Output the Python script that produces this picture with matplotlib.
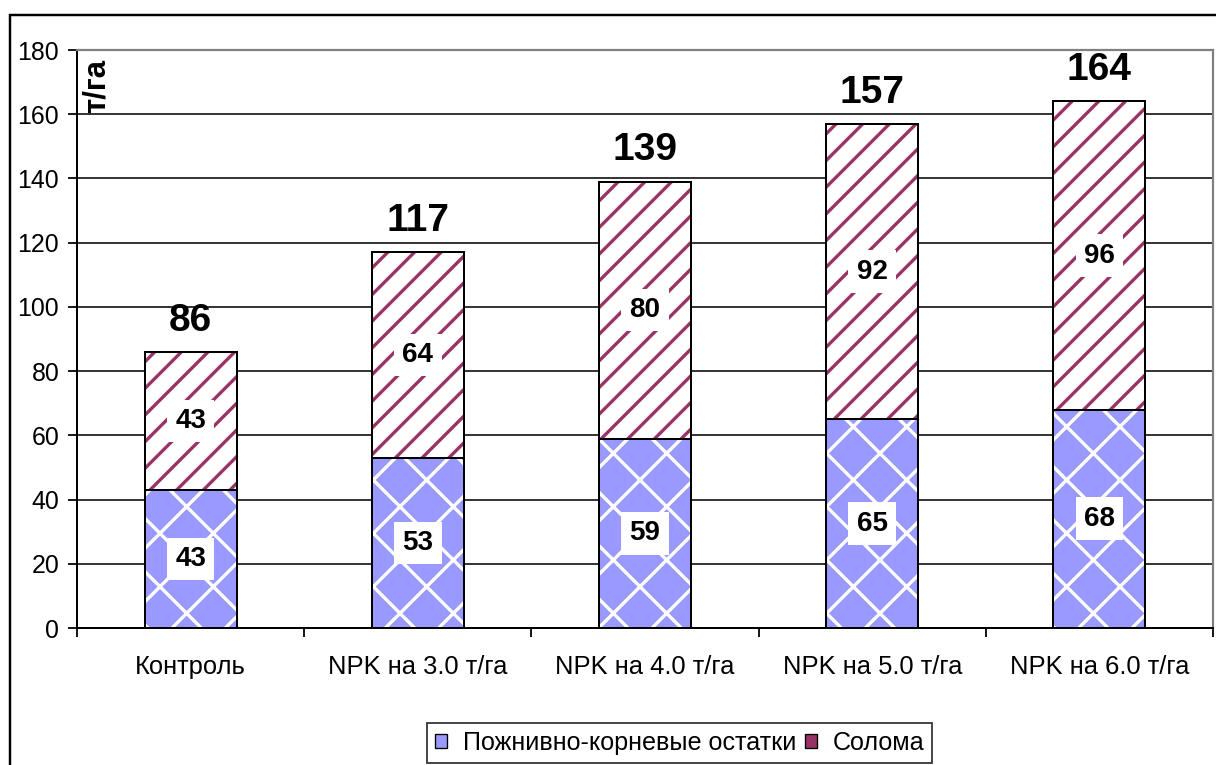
import matplotlib
matplotlib.use("Agg")
import matplotlib.pyplot as plt
import numpy as np
from matplotlib.patches import Patch, Rectangle

CATEGORIES = ["Контроль", "NPK на 3.0 т/га", "NPK на 4.0 т/га", "NPK на 5.0 т/га", "NPK на 6.0 т/га"]
RESIDUES = [43, 53, 59, 65, 68]
STRAW = [43, 64, 80, 92, 96]
TOTALS = [86, 117, 139, 157, 164]
SERIES_LABELS = ["Пожнивно-корневые остатки", "Солома"]
Y_TICKS = list(range(0, 181, 20))

BLUE = "#9999FF"
PLUM = "#993366"
GREY = "#808080"

DPI = 160
plt.rcParams["font.family"] = ["Liberation Sans", "DejaVu Sans"]
plt.rcParams["hatch.linewidth"] = 1.5

fig = plt.figure(figsize=(1216 / DPI, 765 / DPI), dpi=DPI)
ax = fig.add_axes([77 / 1216, 1 - 628 / 765, 1136 / 1216, 578 / 765])

x = np.arange(len(CATEGORIES))
width = 0.405
res = np.array(RESIDUES, dtype=float)
straw = np.array(STRAW, dtype=float)

# gridlines under the bars
ax.set_axisbelow(True)
ax.yaxis.grid(True, color="black", lw=0.7)

# pattern fills (hatch colour taken from edgecolor), then black outlines on top
ax.bar(x, res, width, color=BLUE, edgecolor="white", hatch="x", lw=0, zorder=2)
ax.bar(x, straw, width, bottom=res, color="white", edgecolor=PLUM, hatch="//", lw=0, zorder=2)
ax.bar(x, res, width, fill=False, edgecolor="black", lw=0.9, zorder=3)
ax.bar(x, straw, width, bottom=res, fill=False, edgecolor="black", lw=0.9, zorder=3)

box = {"boxstyle": "square,pad=0.3", "facecolor": "white", "edgecolor": "none"}
for xi, r, s, t in zip(x, res, straw, TOTALS):
    ax.text(xi, r / 2, f"{int(r)}", ha="center", va="center", fontsize=12.5,
            fontweight="bold", bbox=box, zorder=4)
    ax.text(xi, r + s / 2, f"{int(s)}", ha="center", va="center", fontsize=12.5,
            fontweight="bold", bbox=box, zorder=4)
    ax.annotate(f"{t}", (xi, r + s), xytext=(0, 6), textcoords="offset points",
                ha="center", va="bottom", fontsize=17.5, fontweight="bold", zorder=4)

ax.set_xlim(-0.5, len(CATEGORIES) - 0.5)
ax.set_ylim(0, 180)
ax.set_yticks(Y_TICKS)
ax.set_xticks(x)
ax.set_xticklabels(CATEGORIES)
ax.set_xticks(np.arange(-0.5, len(CATEGORIES)), minor=True)
ax.tick_params(axis="x", which="major", length=0, pad=12, labelsize=11.5)
ax.tick_params(axis="x", which="minor", length=4, width=0.8, direction="out")
ax.tick_params(axis="y", which="major", length=4, width=0.8, direction="out", pad=4, labelsize=11.2)

for side in ("left", "bottom"):
    ax.spines[side].set_color("black")
    ax.spines[side].set_linewidth(0.9)
for side in ("top", "right"):
    ax.spines[side].set_color(GREY)
    ax.spines[side].set_linewidth(1.0)

ax.text(0.0176, 0.985, "т/га", transform=ax.transAxes, rotation=90,
        ha="center", va="top", fontsize=14, fontweight="bold")

handles = [Patch(facecolor=BLUE, edgecolor="black", lw=0.6),
           Patch(facecolor=PLUM, edgecolor="black", lw=0.6)]
leg = fig.legend(handles, SERIES_LABELS, loc="center", bbox_to_anchor=(0.5588, 0.0288),
                 ncol=2, fontsize=11.3, frameon=True, fancybox=False,
                 handlelength=0.5, handleheight=0.5, handletextpad=0.6,
                 columnspacing=0.35, borderpad=0.3)
leg.get_frame().set_edgecolor("black")
leg.get_frame().set_linewidth(0.8)

# outer chart border (right and bottom run off the picture)
fig.patches.append(Rectangle((10 / 1216, -0.2), 1.5, 1 - 15 / 765 + 0.2,
                             transform=fig.transFigure, fill=False,
                             edgecolor="black", lw=1.1))

fig.savefig("out.png", dpi=DPI)
